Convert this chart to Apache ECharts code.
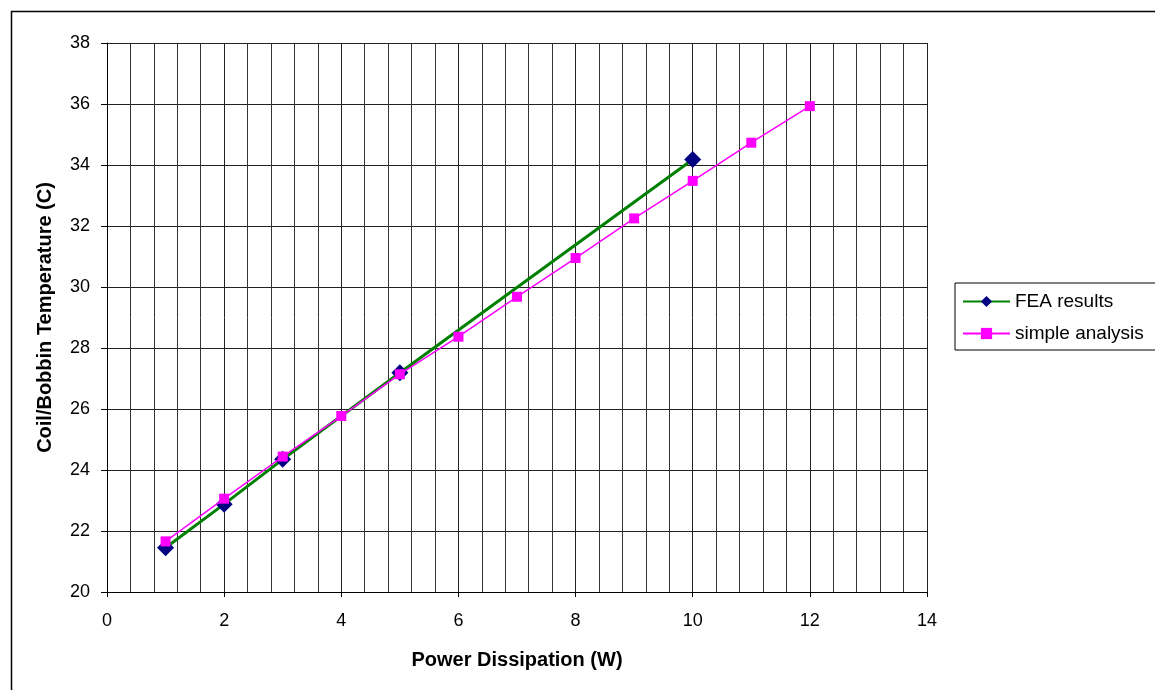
<!DOCTYPE html>
<html>
<head>
<meta charset="utf-8">
<script src="https://cdn.jsdelivr.net/npm/echarts@6/dist/echarts.min.js"></script>
<style>
html,body{margin:0;padding:0;background:#fff;}
#c{width:1155px;height:690px;}
</style>
</head>
<body>
<div id="c"></div>
<script>
const xTitle = 'Power Dissipation (W)';
const yTitle = 'Coil/Bobbin Temperature (C)';
const feaX = [1, 2, 3, 5, 10];
const feaY = [21.45, 22.88, 24.35, 27.19, 34.18];
const simpleX = [1, 2, 3, 4, 5, 6, 7, 8, 9, 10, 11, 12];
const simpleY = [21.66, 23.06, 24.44, 25.77, 27.14, 28.37, 29.68, 30.95, 32.25, 33.48, 34.73, 35.93];

const chart = echarts.init(document.getElementById('c'));
const font = "'Liberation Sans', Arial, sans-serif";
chart.setOption({
  backgroundColor: '#fff',
  animation: false,
  graphic: [{
    type: 'rect', left: 9, top: 9, shape: {width: 1160, height: 700},
    style: {fill: 'none', stroke: '#000', lineWidth: 1.5}, silent: true
  }],
  grid: {left: 107, top: 43, width: 820, height: 549},
  legend: {
    left: 955, top: 283, orient: 'vertical',
    borderColor: '#000', borderWidth: 1, padding: [9, 30, 7, 7],
    itemWidth: 47, itemHeight: 14, itemGap: 13,
    textStyle: {fontFamily: font, fontSize: 19, color: '#000'},
    data: ['FEA results', 'simple analysis']
  },
  xAxis: {
    type: 'value', min: 0, max: 14, interval: 2,
    name: xTitle, nameLocation: 'middle', nameGap: 58,
    nameTextStyle: {fontFamily: font, fontSize: 20, fontWeight: 'bold', color: '#000'},
    axisLine: {lineStyle: {color: '#000', width: 1}},
    axisTick: {show: true, length: 5, lineStyle: {color: '#000'}},
    axisLabel: {fontFamily: font, fontSize: 18, color: '#000', margin: 20},
    splitLine: {show: true, lineStyle: {color: '#222', width: 1}},
    minorTick: {show: false, splitNumber: 5},
    minorSplitLine: {show: true, lineStyle: {color: '#333', width: 1}}
  },
  yAxis: {
    type: 'value', min: 20, max: 38, interval: 2,
    name: yTitle, nameLocation: 'middle', nameGap: 52,
    nameTextStyle: {fontFamily: font, fontSize: 20, fontWeight: 'bold', color: '#000'},
    axisLine: {show: true, lineStyle: {color: '#000', width: 1}},
    axisTick: {show: true, length: 6, lineStyle: {color: '#000'}},
    axisLabel: {fontFamily: font, fontSize: 18, color: '#000', margin: 17},
    splitLine: {show: true, lineStyle: {color: '#222', width: 1}}
  },
  series: [
    {
      name: 'FEA results', type: 'line',
      data: feaX.map((x, i) => [x, feaY[i]]),
      lineStyle: {color: '#008000', width: 3},
      itemStyle: {color: '#000080'},
      symbol: 'diamond', symbolSize: 17, showAllSymbol: true, z: 2
    },
    {
      name: 'simple analysis', type: 'line',
      data: simpleX.map((x, i) => [x, simpleY[i]]),
      lineStyle: {color: '#FF00FF', width: 1.5},
      itemStyle: {color: '#FF00FF'},
      symbol: 'rect', symbolSize: 10, showAllSymbol: true, z: 3
    }
  ]
});
</script>
</body>
</html>
